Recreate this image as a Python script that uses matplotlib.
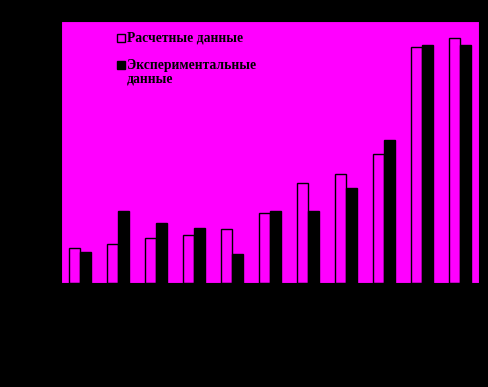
import matplotlib
matplotlib.use("Agg")
import matplotlib.pyplot as plt
import numpy as np
from matplotlib.patches import Rectangle

# bar heights (arbitrary units)
groups = list(range(1, 12))
calc_vals = [34.7, 39, 44.7, 48, 53.7, 69.7, 99.7, 109, 129, 235.7, 244.7]
exp_vals = [31, 72, 60, 55, 29, 72, 72, 95, 143, 238, 238]
labels = ['Расчетные данные', 'Экспериментальные\nданные']

W, H = 488, 387
fig = plt.figure(figsize=(W / 100, H / 100), dpi=100, facecolor='black')
ax = fig.add_axes([61 / W, 104 / H, 418 / W, 262 / H])
ax.set_facecolor('#ff00ff')

x = np.arange(len(groups))
w = 0.3
ax.bar(x - w / 2, calc_vals, w, facecolor='#ff00ff', edgecolor='black', linewidth=1.0)
ax.bar(x + w / 2, exp_vals, w, facecolor='black', edgecolor='black', linewidth=1.0)

ax.set_xlim(-0.5, len(groups) - 0.5)
ax.set_ylim(0, 262)
ax.set_xticks(x)
ax.set_xticklabels([str(g) for g in groups], color='black')
ax.tick_params(colors='black')
for s in ax.spines.values():
    s.set_color('black')

# hand-placed legend (squares sit next to the first text line)
font = {'family': 'Liberation Serif', 'weight': 'bold', 'size': 9.8}
leg_faces = ['#ff00ff', 'black']
leg_tops = [33.5, 61]
for lab, fc, top in zip(labels, leg_faces, leg_tops):
    fig.add_artist(Rectangle((116.5 / W, 1 - (top + 8) / H), 8 / W, 8 / H,
                             transform=fig.transFigure, facecolor=fc,
                             edgecolor='black', linewidth=1.0))
    for i, line in enumerate(lab.split('\n')):
        fig.text(127 / W, 1 - (top + 8.3 + i * 13.5) / H, line,
                 va='baseline', ha='left', **font)

fig.savefig('out.png', dpi=100, facecolor='black')
